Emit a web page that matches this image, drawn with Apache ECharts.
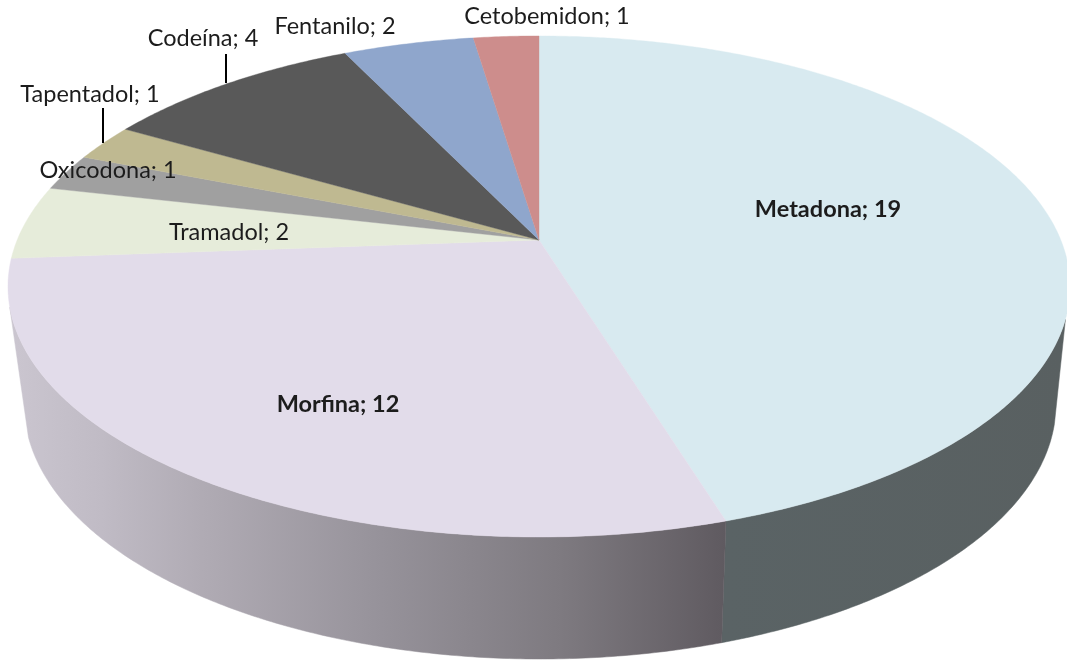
<!DOCTYPE html>
<html>
<head>
<meta charset="utf-8">
<style>html,body{margin:0;padding:0;background:#fff}#c{width:1067px;height:660px}</style>
<script src="https://cdn.jsdelivr.net/npm/echarts@6/dist/echarts.min.js"></script>
</head>
<body>
<div id="c"></div>
<script>
// Data, clockwise from 12 o'clock
const categories = ['Metadona','Morfina','Tramadol','Oxicodona','Tapentadol','Codeína','Fentanilo','Cetobemidon'];
const values = [19,12,2,1,1,4,2,1];
// Styles
const colors = ['#d8eaf0','#e2dcea','#e6ecda','#a0a0a0','#bfb991','#595959','#8fa6cc','#cd8d8c'];
const boldLabel = [true,true,false,false,false,false,false,false];
const labelCentres = [[828,209],[338,404],[229,232],[108,170],[90,94],[203,38],[335,26],[547,16]];
const leaders = [null,null,null,null,[103,108,103,143],[226,54,226,83],null,null];
// Perspective model of the top and bottom rims of the pie
const topRim = {cx:539, cy:240, R:521.8, S:241.9, k:0.1856};
const botRim = {cx:540, cy:356.7, R:507, S:246.2, k:0.1856};
// Visible range of the side wall (degrees, clockwise from top)
const sideLimitsTop = {right:108, left:254.7};
const sideLimitsBot = {right:105, left:252};

const total = values.reduce((a,b)=>a+b,0);
const starts = []; let acc = 0;
values.forEach(v=>{starts.push(acc/total*360); acc+=v;});
const ends = values.map((v,i)=>starts[i]+v/total*360);

function rim(m,deg){
  const t=deg*Math.PI/180, s=Math.sin(t), c=Math.cos(t), d=1+m.k*c;
  return [m.cx+m.R*s/d, m.cy-m.S*c/d];
}
function arc(m,a,b){
  const n=Math.max(2,Math.ceil(Math.abs(b-a)*2)), pts=[];
  for(let i=0;i<=n;i++) pts.push(rim(m,a+(b-a)*i/n));
  return pts;
}
const chart = echarts.init(document.getElementById('c'),null,{renderer:'canvas'});
const data = categories.map((n,i)=>({name:n,value:values[i]}));

const morfinaSide = new echarts.graphic.LinearGradient(8,0,726,0,[
  {offset:0,color:'#cbc6d0'},{offset:0.13,color:'#c0bbc5'},{offset:0.27,color:'#b0abb4'},
  {offset:0.52,color:'#96929a'},{offset:0.77,color:'#7e7a80'},{offset:1,color:'#5f5a60'}],true);
const metadonaSide = new echarts.graphic.LinearGradient(726,0,1067,0,[
  {offset:0,color:'#5a6365'},{offset:1,color:'#596061'}],true);

chart.setOption({
  animation:false,
  backgroundColor:'#ffffff',
  series:[
    {type:'custom',coordinateSystem:'none',z:1,silent:true,data:data,
     renderItem(p){
       const i=p.dataIndex;
       if(i===0){
         const pts=arc(botRim,sideLimitsBot.right,ends[0]).concat(arc(topRim,ends[0],sideLimitsTop.right));
         return {type:'polygon',shape:{points:pts},style:{fill:metadonaSide,stroke:metadonaSide,lineWidth:0.5}};
       }
       if(i===1){
         const pts=arc(botRim,starts[1],sideLimitsBot.left).concat(arc(topRim,sideLimitsTop.left,starts[1]));
         return {type:'polygon',shape:{points:pts},style:{fill:morfinaSide,stroke:morfinaSide,lineWidth:0.5}};
       }
       return {type:'group',children:[]};
     }},
    {type:'custom',coordinateSystem:'none',z:2,silent:true,data:data,
     renderItem(p){
       const i=p.dataIndex;
       const pts=[[topRim.cx,topRim.cy]].concat(arc(topRim,starts[i],ends[i]));
       return {type:'polygon',shape:{points:pts},
               style:{fill:colors[i],stroke:colors[i],lineWidth:0.4}};
     }},
    {type:'custom',coordinateSystem:'none',z:3,silent:true,data:data,
     renderItem(p,api){
       const i=p.dataIndex, ch=[];
       if(leaders[i]){
         const l=leaders[i];
         ch.push({type:'line',shape:{x1:l[0],y1:l[1],x2:l[2],y2:l[3]},style:{stroke:'#000',lineWidth:2}});
       }
       ch.push({type:'text',style:{
         text:categories[i]+'; '+api.value(0),x:labelCentres[i][0],y:labelCentres[i][1],
         align:'center',verticalAlign:'middle',fill:'#1c1c1c',
         font:(boldLabel[i]?'bold ':'')+'23.5px Lato'}});
       return {type:'group',children:ch};
     }}
  ]
});
</script>
</body>
</html>
